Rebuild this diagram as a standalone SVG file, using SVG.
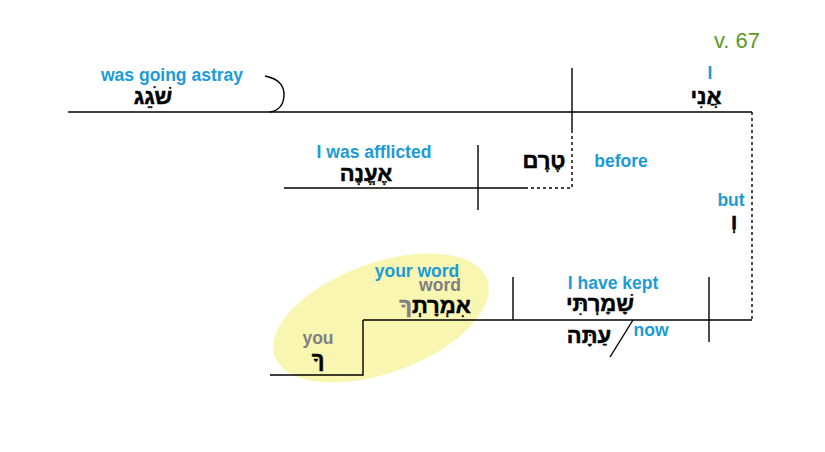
<svg xmlns="http://www.w3.org/2000/svg" width="825" height="452" viewBox="0 0 825 452">
<style>
.ln{stroke:#000;stroke-width:1.4;fill:none}
.dt{stroke:#000;stroke-width:1.4;fill:none;stroke-dasharray:3,3}
.en{font-family:"Liberation Sans",Arial,sans-serif;font-weight:bold;font-size:17.5px;fill:#1b9bd7;text-anchor:middle}
.gr{font-family:"Liberation Sans",Arial,sans-serif;font-weight:bold;font-size:17.5px;fill:#808080;text-anchor:middle}
.he{font-family:"Liberation Sans","DejaVu Sans",sans-serif;font-weight:bold;font-size:22px;fill:#000;stroke:#000;stroke-width:0.5;text-anchor:middle}
</style>
<rect width="825" height="452" fill="#fff"/>
<ellipse cx="381" cy="318" rx="113" ry="55" transform="rotate(-20 381 318)" fill="#f8f6b0"/>
<g id="connectors">
<path class="ln" d="M68 112H752"/>
<path class="ln" d="M265 76Q285 80 284 96Q283 110 270 112"/>
<path class="ln" d="M572 68V130"/>
<path class="dt" d="M572 130V188H525"/>
<path class="ln" d="M284 188H525"/>
<path class="ln" d="M478 145V210"/>
<path class="dt" d="M752 112V320"/>
<path class="ln" d="M363 320H752"/>
<path class="ln" d="M513 277V320"/>
<path class="ln" d="M709 277V342"/>
<path class="ln" d="M270 375H363V320"/>
<path class="ln" d="M633 320L610 357"/>
</g>
<g id="verse"><text x="737" y="48" font-family="Liberation Sans,Arial,sans-serif" font-size="22" fill="#5a9a1e" text-anchor="middle">v. 67</text></g>
<g id="node-astray"><text class="en" x="172" y="81">was going astray</text><text class="he" x="153" y="104">שֹׁגֵג</text></g>
<g id="node-I"><text class="en" x="710" y="79">I</text><text class="he" x="706" y="104">אֲנִי</text></g>
<g id="node-afflicted"><text class="en" x="374" y="158">I was afflicted</text><text class="he" x="366" y="181">אֶעֱנֶה</text></g>
<g id="node-before"><text class="he" x="544" y="168">טֶרֶם</text><text class="en" x="621" y="167">before</text></g>
<g id="node-but"><text class="en" x="731" y="206">but</text><text class="he" x="734" y="229">וְ</text></g>
<g id="node-word"><text class="en" x="417" y="277">your word</text><text class="gr" x="440" y="291">word</text><text class="he" x="435" y="313">אִמְרָתְ<tspan fill="#808080" stroke="#808080">ךָ</tspan></text></g>
<g id="node-kept"><text class="en" x="613" y="289">I have kept</text><text class="he" x="600" y="311">שָׁמָרְתִּי</text></g>
<g id="node-now"><text class="he" x="589" y="343">עַתָּה</text><text class="en" x="651" y="336">now</text></g>
<g id="node-you"><text class="gr" x="318" y="344">you</text><text class="he" x="318" y="367">ךָ</text></g>
</svg>
